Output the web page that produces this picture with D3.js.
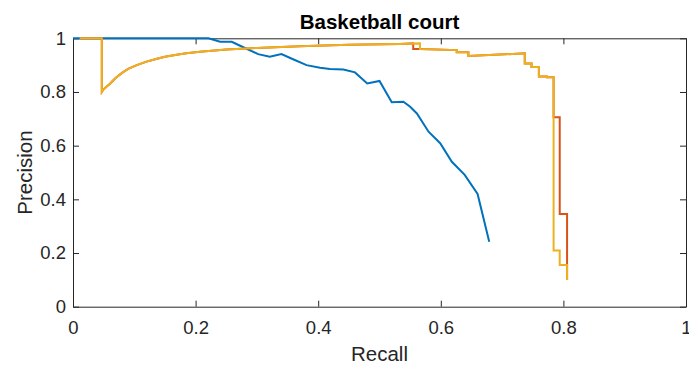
<!DOCTYPE html>
<html>
<head>
<meta charset="utf-8">
<script src="https://cdn.jsdelivr.net/npm/d3@7"></script>
<style>
  html, body { margin: 0; padding: 0; background: #fff; }
  svg { display: block; font-family: "Liberation Sans", Arial, Helvetica, sans-serif; }
</style>
</head>
<body>
<svg id="chart" width="689" height="369"></svg>
<script>
// ---------- data ----------
const titleText = "Basketball court";
const xLabel = "Recall";
const yLabel = "Precision";
const xTicks = [0, 0.2, 0.4, 0.6, 0.8, 1];
const yTicks = [0, 0.2, 0.4, 0.6, 0.8, 1];
const xTickLabels = ["0", "0.2", "0.4", "0.6", "0.8", "1"];
const yTickLabels = ["0", "0.2", "0.4", "0.6", "0.8", "1"];

const blueRecall = [0, 0.221, 0.240, 0.259, 0.270, 0.302, 0.321, 0.340, 0.359, 0.381, 0.403, 0.419, 0.441, 0.460, 0.480, 0.500, 0.520, 0.539, 0.550, 0.561, 0.580, 0.599, 0.618, 0.639, 0.660, 0.679];
const bluePrecision = [1, 1.0, 0.987, 0.987, 0.975, 0.941, 0.931, 0.941, 0.922, 0.900, 0.890, 0.886, 0.884, 0.873, 0.832, 0.841, 0.762, 0.764, 0.745, 0.720, 0.652, 0.609, 0.540, 0.491, 0.420, 0.242];

const redRecall = [0.011, 0.047, 0.047, 0.050, 0.055, 0.060, 0.065, 0.070, 0.080, 0.090, 0.104, 0.120, 0.137, 0.150, 0.169, 0.185, 0.207, 0.25, 0.30, 0.37, 0.45, 0.533, 0.555, 0.555, 0.566, 0.626, 0.626, 0.645, 0.645, 0.737, 0.737, 0.748, 0.748, 0.760, 0.760, 0.773, 0.773, 0.784, 0.784, 0.794, 0.794, 0.806, 0.806];
const redPrecision = [1, 1, 0.80, 0.810, 0.820, 0.830, 0.842, 0.853, 0.871, 0.886, 0.900, 0.913, 0.924, 0.931, 0.939, 0.944, 0.950, 0.958, 0.964, 0.970, 0.976, 0.979, 0.981, 0.960, 0.960, 0.956, 0.948, 0.948, 0.934, 0.944, 0.906, 0.906, 0.893, 0.893, 0.858, 0.858, 0.855, 0.855, 0.706, 0.706, 0.345, 0.345, 0.0995];

const yellowRecall = [0.011, 0.047, 0.047, 0.050, 0.055, 0.060, 0.065, 0.070, 0.080, 0.090, 0.104, 0.120, 0.137, 0.150, 0.169, 0.185, 0.207, 0.25, 0.30, 0.37, 0.45, 0.533, 0.566, 0.566, 0.626, 0.626, 0.645, 0.645, 0.737, 0.737, 0.748, 0.748, 0.760, 0.760, 0.773, 0.773, 0.784, 0.784, 0.794, 0.794, 0.806, 0.806];
const yellowPrecision = [1, 1, 0.80, 0.810, 0.820, 0.830, 0.842, 0.853, 0.871, 0.886, 0.900, 0.913, 0.924, 0.931, 0.939, 0.944, 0.950, 0.958, 0.964, 0.970, 0.976, 0.979, 0.981, 0.960, 0.956, 0.948, 0.948, 0.934, 0.944, 0.906, 0.906, 0.893, 0.893, 0.858, 0.858, 0.855, 0.855, 0.209, 0.209, 0.155, 0.155, 0.0995];

const seriesColors = ["#0072BD", "#D95319", "#EDB120"];

// ---------- layout ----------
const W = 689, H = 369;
const margin = { left: 73, top: 38.3, right: 3, bottom: 62.3 };
const pw = W - margin.left - margin.right;
const ph = H - margin.top - margin.bottom;

const svg = d3.select("#chart");
const g = svg.append("g").attr("transform", `translate(${margin.left},${margin.top})`);

const x = d3.scaleLinear().domain([0, 1]).range([0, pw]);
const y = d3.scaleLinear().domain([0, 1]).range([ph, 0]);

const axisColor = "#262626";
const tickFont = 18.5;

function styleAxis(sel) {
  sel.select(".domain").attr("stroke", axisColor).attr("stroke-width", 1);
  sel.selectAll(".tick line").attr("stroke", axisColor).attr("stroke-width", 1);
  sel.selectAll(".tick text").attr("fill", axisColor).attr("font-size", tickFont)
     .attr("font-family", "Liberation Sans, Arial, sans-serif");
}

const xAxis = g.append("g").attr("transform", `translate(0,${ph})`)
  .call(d3.axisBottom(x).tickValues(xTicks).tickSizeInner(-6).tickSizeOuter(0).tickPadding(14)
    .tickFormat((d, i) => xTickLabels[i]));
styleAxis(xAxis);

const xAxisTop = g.append("g")
  .call(d3.axisTop(x).tickValues(xTicks).tickSizeInner(-6).tickSizeOuter(0).tickFormat(""));
styleAxis(xAxisTop);

const yAxis = g.append("g")
  .call(d3.axisLeft(y).tickValues(yTicks).tickSizeInner(-6).tickSizeOuter(0).tickPadding(7)
    .tickFormat((d, i) => yTickLabels[i]));
styleAxis(yAxis);

const yAxisRight = g.append("g").attr("transform", `translate(${pw},0)`)
  .call(d3.axisRight(y).tickValues(yTicks).tickSizeInner(-6).tickSizeOuter(0).tickFormat(""));
styleAxis(yAxisRight);

// ---------- lines ----------
const line = d3.line().x(d => x(d[0])).y(d => y(d[1]));
const series = [
  [blueRecall, bluePrecision],
  [redRecall, redPrecision],
  [yellowRecall, yellowPrecision]
];
series.forEach((s, k) => {
  const pts = s[0].map((r, i) => [r, s[1][i]]);
  g.append("path")
    .datum(pts)
    .attr("fill", "none")
    .attr("stroke", seriesColors[k])
    .attr("stroke-width", 2)
    .attr("stroke-linejoin", "miter")
    .attr("d", line);
});

// ---------- text ----------
svg.append("text")
  .attr("x", margin.left + pw / 2)
  .attr("y", 29)
  .attr("text-anchor", "middle")
  .attr("font-size", 20.5)
  .attr("font-weight", "bold")
  .attr("fill", "#000")
  .text(titleText);

svg.append("text")
  .attr("x", margin.left + pw / 2)
  .attr("y", 361)
  .attr("text-anchor", "middle")
  .attr("font-size", 20.5)
  .attr("fill", axisColor)
  .text(xLabel);

svg.append("text")
  .attr("transform", `translate(32,${margin.top + ph / 2}) rotate(-90)`)
  .attr("text-anchor", "middle")
  .attr("font-size", 20.5)
  .attr("fill", axisColor)
  .text(yLabel);
</script>
</body>
</html>
